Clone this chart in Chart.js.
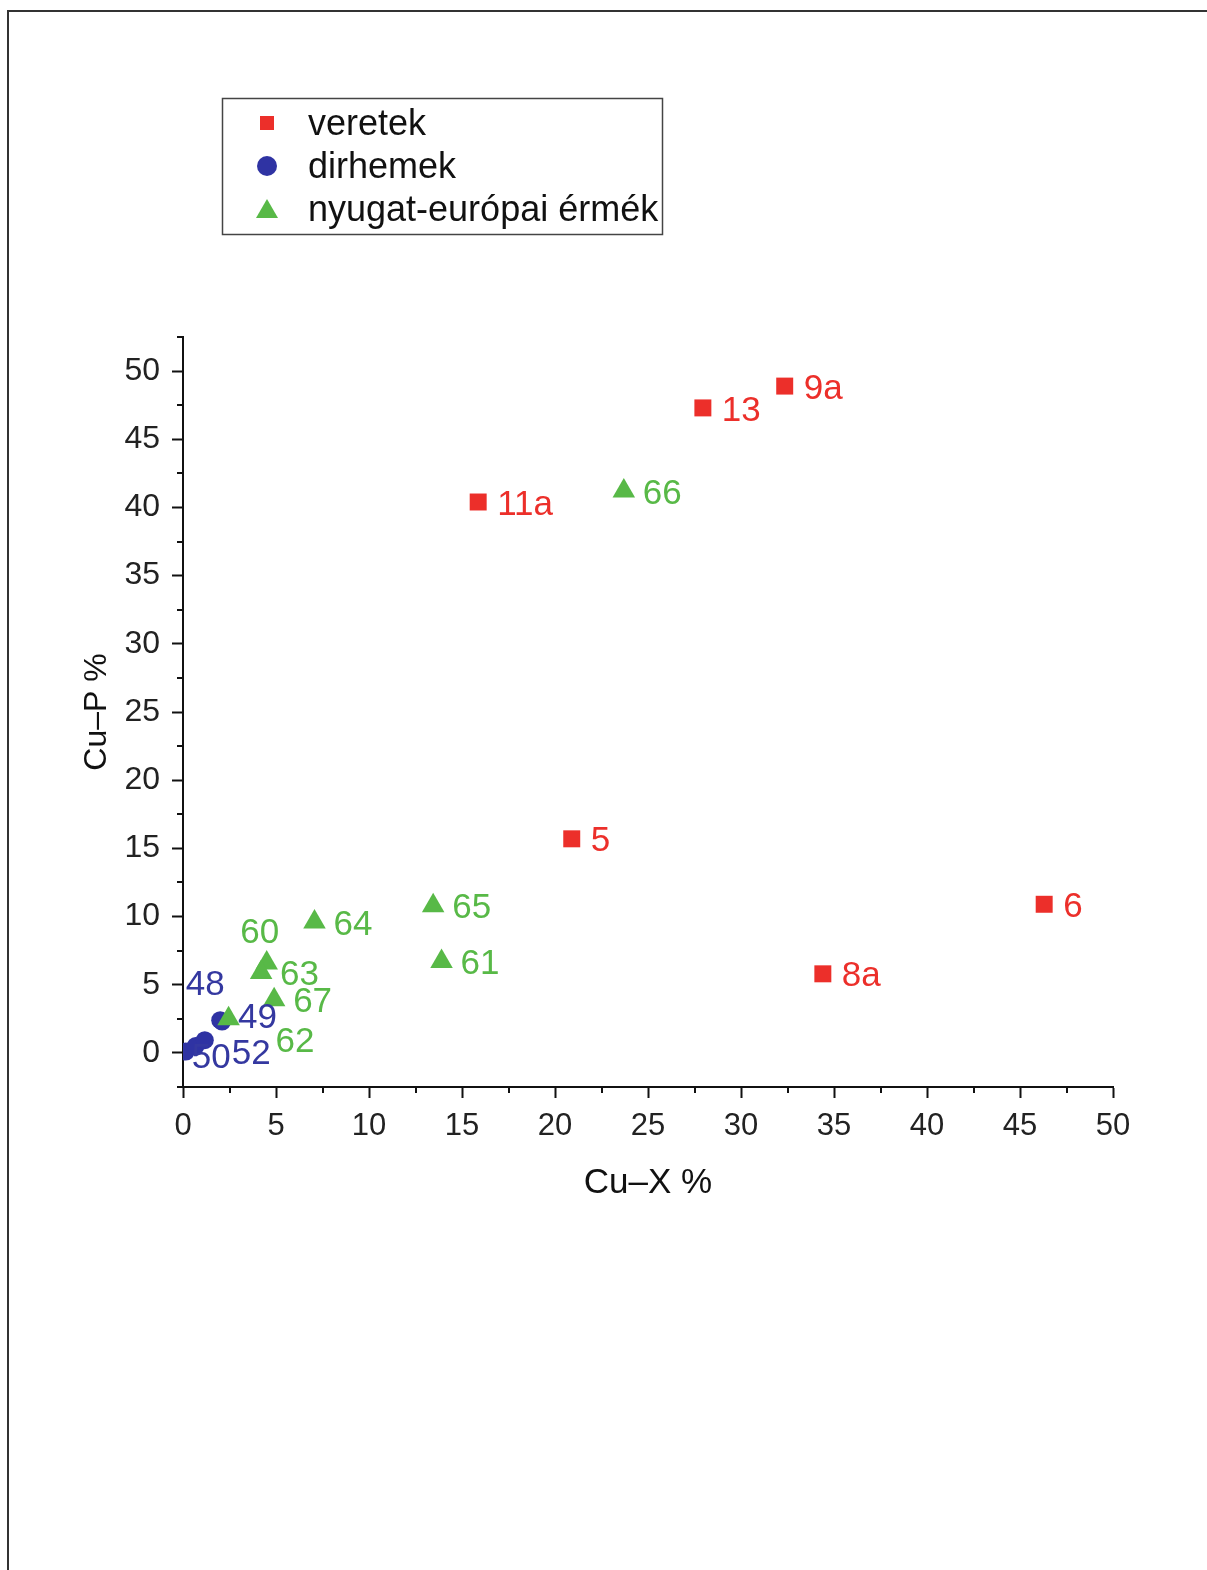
<!DOCTYPE html>
<html>
<head>
<meta charset="utf-8">
<title>Cu-X / Cu-P</title>
<script src="https://cdn.jsdelivr.net/npm/chart.js@4/dist/chart.umd.min.js"></script>
<style>
    body { margin: 0; background: #fff; }
    #page { position: absolute; left: 7px; top: 10px; width: 1200px; height: 1560px;
            border-top: 2px solid #333; border-left: 2px solid #333; }
    #chart { position: absolute; left: 0; top: 0; }
</style>
</head>
<body>
<div id="page"></div>
<canvas id="chart" width="1207" height="1570"></canvas>
<script>
// ========== DATA ==========
const veretekLabels = ['9a', '13', '11a', '5', '6', '8a'];
const veretekX = [32.35, 27.95, 15.87, 20.9, 46.3, 34.4];
const veretekY = [48.9, 47.3, 40.4, 15.7, 10.9, 5.8];

const dirhemekLabels = ['48', '49', '50', '', '52'];
const dirhemekX = [2.0, 2.1, 0.15, 0.68, 1.17];
const dirhemekY = [2.4, 2.3, 0.1, 0.5, 0.93];

const nyugatLabels = ['66', '65', '61', '64', '60', '63', '67', '62'];
const nyugatX = [23.7, 13.45, 13.9, 7.07, 4.5, 4.2, 4.9, 2.45];
const nyugatY = [41.2, 10.8, 6.7, 9.6, 6.6, 5.9, 3.9, 2.5];

const xTicks = [0, 5, 10, 15, 20, 25, 30, 35, 40, 45, 50];
const yTicks = [0, 5, 10, 15, 20, 25, 30, 35, 40, 45, 50];
const xMinorTicks = [2.5, 7.5, 12.5, 17.5, 22.5, 27.5, 32.5, 37.5, 42.5, 47.5];
const yMinorTicks = [-2.5, 2.5, 7.5, 12.5, 17.5, 22.5, 27.5, 32.5, 37.5, 42.5, 47.5, 52.5];

// ========== STYLE ==========
const FONT = "'Liberation Sans', Arial, Helvetica, sans-serif";
const RED = '#ec2f2a';
const BLUE = '#2f33a3';
const GREEN = '#58b947';

// label offsets in pixels (default: right of the marker)
const labelOffsets = {
    '60': { dx: -7, dy: -30, align: 'center' },
    '48': { dx: -15, dy: -35, align: 'center' },
    '49': { dx: 16, dy: -3, align: 'left' },
    '62': { dx: 47, dy: 24, align: 'left' },
    '50': { dx: 6, dy: 7, align: 'left' },
    '52': { dx: 27, dy: 14, align: 'left' }
};

function toPoints(xs, ys) {
    return xs.map((x, i) => ({ x: x, y: ys[i] }));
}

// ========== PLUGINS ==========
const pointLabels = {
    id: 'pointLabels',
    afterDatasetsDraw(chart) {
        const ctx = chart.ctx;
        ctx.save();
        ctx.font = '35px ' + FONT;
        ctx.textBaseline = 'middle';
        chart.data.datasets.forEach((ds, di) => {
            const meta = chart.getDatasetMeta(di);
            ds.pointLabels.forEach((txt, i) => {
                if (!txt) return;
                const el = meta.data[i];
                const off = labelOffsets[txt] || { dx: 19, dy: 3, align: 'left' };
                ctx.fillStyle = ds.labelColor;
                ctx.textAlign = off.align;
                ctx.fillText(txt, el.x + off.dx, el.y + off.dy);
            });
        });
        ctx.restore();
    }
};

const minorTicks = {
    id: 'minorTicks',
    afterDraw(chart) {
        const ctx = chart.ctx;
        const xs = chart.scales.x;
        const ys = chart.scales.y;
        const area = chart.chartArea;
        ctx.save();
        ctx.strokeStyle = '#111';
        ctx.lineWidth = 2;
        ctx.beginPath();
        xMinorTicks.forEach(v => {
            const px = Math.round(xs.getPixelForValue(v));
            ctx.moveTo(px, area.bottom);
            ctx.lineTo(px, area.bottom + 6);
        });
        yMinorTicks.forEach(v => {
            const py = Math.round(ys.getPixelForValue(v));
            ctx.moveTo(area.left - 6, py);
            ctx.lineTo(area.left, py);
        });
        ctx.stroke();
        ctx.restore();
    }
};

const boxLegend = {
    id: 'boxLegend',
    afterDraw(chart) {
        const ctx = chart.ctx;
        ctx.save();
        ctx.strokeStyle = '#444';
        ctx.lineWidth = 1.5;
        ctx.strokeRect(222.5, 98.5, 440, 136);
        ctx.font = '36px ' + FONT;
        ctx.textBaseline = 'middle';
        ctx.textAlign = 'left';
        const rows = [0, 1, 2];
        rows.forEach(r => {
            const ds = chart.data.datasets[r];
            const cy = 123 + r * 43;
            const cx = 267;
            ctx.fillStyle = ds.backgroundColor;
            ctx.beginPath();
            if (ds.pointStyle === 'rect') {
                ctx.rect(cx - 7, cy - 7, 14, 14);
            } else if (ds.pointStyle === 'circle') {
                ctx.arc(cx, cy, 10, 0, Math.PI * 2);
            } else {
                ctx.moveTo(cx, cy - 10);
                ctx.lineTo(cx + 11, cy + 9);
                ctx.lineTo(cx - 11, cy + 9);
                ctx.closePath();
            }
            ctx.fill();
            ctx.fillStyle = '#111';
            ctx.fillText(ds.label, 308, cy + 2);
        });
        ctx.restore();
    }
};

// ========== CHART ==========
const ctx = document.getElementById('chart').getContext('2d');

new Chart(ctx, {
    type: 'scatter',
    data: {
        datasets: [
            {
                label: 'veretek',
                data: toPoints(veretekX, veretekY),
                pointLabels: veretekLabels,
                labelColor: RED,
                pointStyle: 'rect',
                pointRadius: 12,
                backgroundColor: RED,
                borderWidth: 0,
                order: 1
            },
            {
                label: 'dirhemek',
                data: toPoints(dirhemekX, dirhemekY),
                pointLabels: dirhemekLabels,
                labelColor: '#3438a0',
                pointStyle: 'circle',
                pointRadius: 9,
                backgroundColor: BLUE,
                borderWidth: 0,
                order: 2
            },
            {
                label: 'nyugat-európai érmék',
                data: toPoints(nyugatX, nyugatY),
                pointLabels: nyugatLabels,
                labelColor: GREEN,
                pointStyle: 'triangle',
                pointRadius: 13,
                backgroundColor: GREEN,
                borderWidth: 0,
                order: 0
            }
        ]
    },
    options: {
        responsive: false,
        animation: false,
        events: [],
        layout: { padding: { left: 78, top: 337, right: 94, bottom: 366 } },
        plugins: {
            legend: { display: false },
            tooltip: { enabled: false }
        },
        scales: {
            x: {
                type: 'linear',
                min: 0,
                max: 50,
                afterBuildTicks: s => { s.ticks = xTicks.map(v => ({ value: v })); },
                afterFit: s => { s.height = 117; },
                border: { color: '#111', width: 2 },
                grid: { drawOnChartArea: false, tickLength: 11, tickColor: '#111', tickWidth: 2 },
                ticks: { color: '#222', padding: 10, maxRotation: 0, font: { family: FONT, size: 31 } },
                title: { display: true, text: 'Cu–X %', color: '#111', padding: 0, font: { family: FONT, size: 35 } }
            },
            y: {
                type: 'linear',
                min: -2.5,
                max: 52.5,
                afterBuildTicks: s => { s.ticks = yTicks.map(v => ({ value: v })); },
                afterFit: s => { s.width = 105; },
                border: { color: '#111', width: 2 },
                grid: { drawOnChartArea: false, tickLength: 11, tickColor: '#111', tickWidth: 2 },
                ticks: { color: '#222', padding: 12, font: { family: FONT, size: 32 } },
                title: { display: true, text: 'Cu–P %', color: '#111', padding: 0, font: { family: FONT, size: 32 } }
            }
        }
    },
    plugins: [pointLabels, minorTicks, boxLegend]
});
</script>
</body>
</html>
